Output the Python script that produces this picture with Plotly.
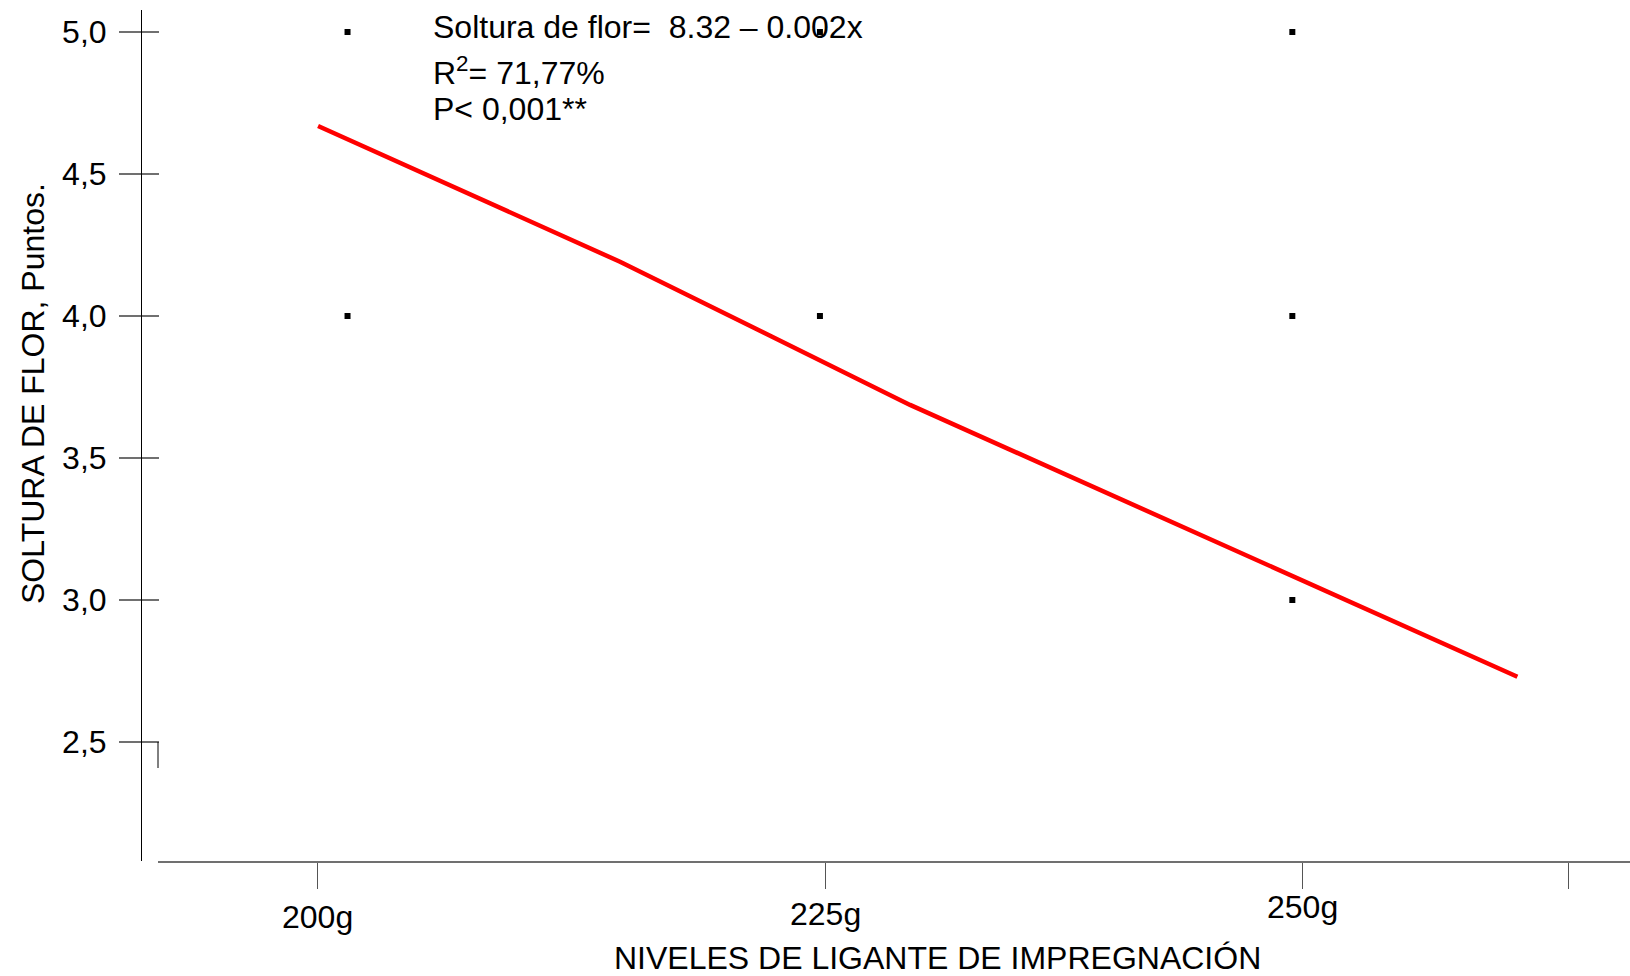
import plotly.graph_objects as go

# ---- data ----
levels_x = [200, 200, 225, 225, 250, 250, 250]
soltura_y = [5.0, 4.0, 5.0, 4.0, 5.0, 4.0, 3.0]

trend_x = [198.44, 214.42, 229.77, 261.91]
trend_y = [4.669, 4.191, 3.687, 2.730]

x_tick_vals = [198.4, 225.3, 250.55, 264.6]
x_tick_text = ["200g", "225g", "250g", ""]
x_label_shift = [-55.7, -53.0, -45.5, 0]

y_tick_vals = [2.5, 3.0, 3.5, 4.0, 4.5, 5.0]
y_tick_text = ["2,5", "3,0", "3,5", "4,0", "4,5", "5,0"]

eq_lines = ["Soltura de flor=  8.32 \u2013 0.002x", "R<sup>2</sup>= 71,77%", "P< 0,001**"]

x_title = "NIVELES DE LIGANTE DE IMPREGNACIÓN"
y_title = "SOLTURA DE FLOR, Puntos."

# ---- layout geometry ----
W, H = 1630, 976
ML, MR, MT, MB = 141, 0, 10, 115
PW, PH = W - ML - MR, H - MT - MB
FONT = "Liberation Sans, Arial, sans-serif"
FS = 32

def px(xp):
    return (xp - ML) / PW

def py(yp):
    return (H - MB - yp) / PH

x_range = [189.97, 267.87]
y_range = [2.0810, 5.0775]

fig = go.Figure()
fig.add_trace(go.Scatter(x=trend_x, y=trend_y, mode="lines",
                         line=dict(color="#ff0000", width=4.5),
                         showlegend=False, hoverinfo="skip"))
fig.add_trace(go.Scatter(x=levels_x, y=soltura_y, mode="markers",
                         marker=dict(symbol="square", size=6, color="black",
                                     line=dict(width=0)),
                         showlegend=False))
# overlay axis for the inside half of the y ticks
fig.add_trace(go.Scatter(x=[None], y=[None], yaxis="y2", showlegend=False))

fig.update_layout(
    width=W, height=H,
    margin=dict(l=ML, r=MR, t=MT, b=MB, pad=0),
    paper_bgcolor="white", plot_bgcolor="white",
    font=dict(family=FONT, size=FS, color="black"),
    xaxis=dict(domain=[px(158), 1], range=x_range, showgrid=False, zeroline=False,
               showline=True, linecolor="#707070", linewidth=2,
               ticks="outside", ticklen=26, tickwidth=1, tickcolor="#555555",
               tickvals=x_tick_vals, showticklabels=False),
    yaxis=dict(range=y_range, anchor="free", position=0, showgrid=False, zeroline=False,
               showline=True, linecolor="black", linewidth=1,
               ticks="outside", ticklen=22, tickwidth=1.5, tickcolor="#707070",
               tickvals=y_tick_vals, ticktext=y_tick_text,
               tickfont=dict(size=FS), ticklabelstandoff=6),
    yaxis2=dict(range=y_range, overlaying="y", anchor="free", position=0,
                showgrid=False, zeroline=False, showline=False,
                ticks="inside", ticklen=17, tickwidth=1.5, tickcolor="#707070",
                tickvals=y_tick_vals, showticklabels=False),
)

annotations = []
for v, t, s in zip(x_tick_vals, x_tick_text, x_label_shift):
    if t:
        annotations.append(dict(x=v, xref="x", y=0, yref="paper", text=t,
                                showarrow=False, xanchor="center", yanchor="middle",
                                yshift=s, font=dict(size=FS)))
annotations.append(dict(x=px(937), xref="paper", y=py(958), yref="paper", text=x_title,
                        showarrow=False, xanchor="center", yanchor="middle",
                        font=dict(size=FS)))
annotations.append(dict(x=px(33), xref="paper", y=py(394), yref="paper", text=y_title,
                        showarrow=False, xanchor="center", yanchor="middle",
                        textangle=-90, font=dict(size=FS)))
eq_y = [27, 71, 109]
for line, yy in zip(eq_lines, eq_y):
    annotations.append(dict(x=px(431), xref="paper", y=py(yy), yref="paper", text=line,
                            showarrow=False, xanchor="left", yanchor="middle",
                            align="left", font=dict(size=FS)))
fig.update_layout(annotations=annotations)

# small stub below the 2,5 tick
fig.add_shape(type="line", xref="x domain", yref="y", x0=0, x1=0,
              y0=2.5, y1=2.5 - 26 / 284.0, line=dict(color="black", width=1))

fig.write_html("out.html", config={"displayModeBar": False},
               post_script="document.body.style.margin='0';document.body.style.overflow='hidden';")
